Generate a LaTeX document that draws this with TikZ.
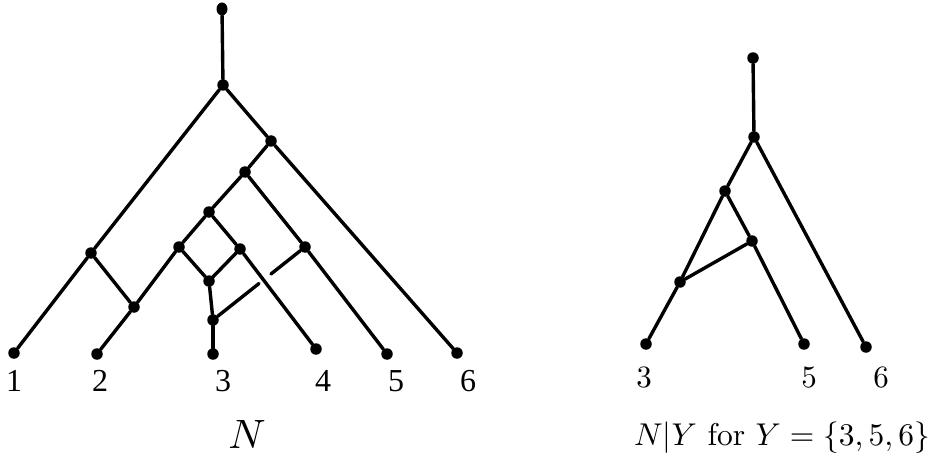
\documentclass[tikz,border=0pt]{standalone}
\usepackage{fontspec}
\newfontfamily\timesfont{Liberation Serif}
\usetikzlibrary{calc,shapes.geometric}
\begin{document}
\begin{tikzpicture}[x=1pt,y=-1pt,
  dot/.style={circle,fill=black,inner sep=0pt,minimum size=11.5pt},
  edge/.style={line width=3.4pt,line cap=round},
  leaflab/.style={anchor=base,font={\timesfont\fontsize{32}{36}\selectfont},inner sep=0pt},
  rlab/.style={anchor=base,scale=3.1,inner sep=0pt}]
\useasboundingbox (0,0) rectangle (933,457);
% ---- left network N ----
\node[ellipse,fill=black,inner sep=0pt,minimum width=11pt,minimum height=13pt] (root) at (222,9) {};
\node[dot] (r1) at (223,85) {};
\node[dot] (a) at (271,141) {};
\node[dot] (b) at (245,172) {};
\node[dot] (c) at (209,212) {};
\node[dot] (d) at (91,253) {};
\node[dot] (e) at (179,247) {};
\node[dot] (f) at (240,249) {};
\node[dot] (g) at (209,281) {};
\node[dot] (h) at (134,307) {};
\node[dot] (i) at (213,320) {};
\node[dot] (j) at (305,247) {};
\node[dot] (L1) at (14,353) {};
\node[dot] (L2) at (97,354) {};
\node[dot] (L3) at (213,354) {};
\node[dot] (L4) at (316,349) {};
\node[dot] (L5) at (387,354) {};
\node[dot] (L6) at (457,353) {};
\foreach \u/\v in {root/r1, r1/d, d/L1, r1/a, a/L6, a/b, b/c, b/j, j/L5, c/e, c/f,
  e/h, h/L2, d/h, e/g, f/g, g/i, i/L3, f/L4}
  \draw[edge] (\u) -- (\v);
\draw[edge] (j) -- ($(j)!0.37!(i)$);
\draw[edge] ($(j)!0.5!(i)$) -- (i);
\node[leaflab] (t1) at (14,391) {1};
\node[leaflab] (t2) at (100,391) {2};
\node[leaflab] (t3) at (223,391) {3};
\node[leaflab] (t4) at (323,391) {4};
\node[leaflab] (t5) at (396,391) {5};
\node[leaflab] (t6) at (468,391) {6};
\node[anchor=base,inner sep=0pt,scale=4.1] (capN) at (247,448) {$N$};
% ---- right network N|Y ----
\node[dot] (rtop) at (753,58) {};
\node[dot] (rr) at (754,137) {};
\node[dot] (rp) at (725,191) {};
\node[dot] (rq) at (752,241) {};
\node[dot] (rs) at (680,282) {};
\node[dot] (R3) at (646,344) {};
\node[dot] (R5) at (804,344) {};
\node[dot] (R6) at (866,347) {};
\foreach \u/\v in {rtop/rr, rr/rp, rr/R6, rp/rs, rp/rq, rq/rs, rs/R3, rq/R5}
  \draw[edge] (\u) -- (\v);
\node[rlab] (s3) at (644,387) {3};
\node[rlab] (s5) at (809,387) {5};
\node[rlab] (s6) at (881,387) {6};
\node[anchor=base,inner sep=0pt,scale=3.15] (capY) at (782,445) {$N|Y$ for $Y=\{3,5,6\}$};
\end{tikzpicture}
\end{document}
